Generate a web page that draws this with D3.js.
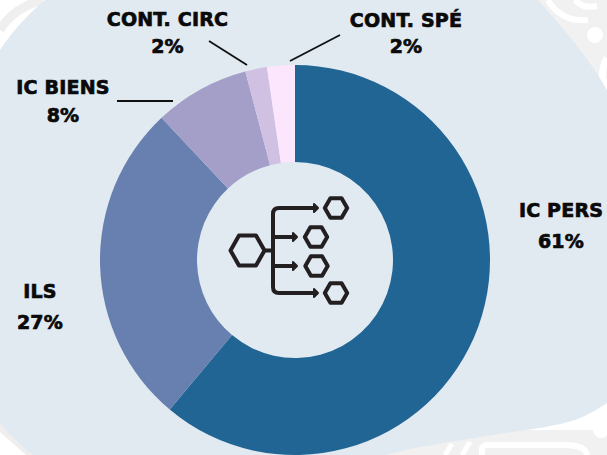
<!DOCTYPE html>
<html>
<head>
<meta charset="utf-8">
<script src="https://cdn.jsdelivr.net/npm/d3@7"></script>
<style>
  html, body { margin: 0; padding: 0; background: #fff; overflow: hidden; }
</style>
</head>
<body>
<div id="chart"></div>
<script>
// 数据
const categories = ["IC PERS", "ILS", "IC BIENS", "CONT. CIRC", "CONT. SPÉ"];
const percentLabels = ["61%", "27%", "8%", "2%", "2%"];
const values = [61.1, 26.9, 7.9, 1.8, 2.3];  // 扇区大小
const sliceColors = ["#206594", "#6780AF", "#A39FC8", "#D0C0E2", "#FBE6FD"];

const width = 607;
const height = 455;
const cx = 295;
const cy = 260;

const svg = d3.select("#chart")
    .append("svg")
    .attr("width", width)
    .attr("height", height)
    .style("display", "block");

// 角落的浅灰花纹
const deco = svg.append("g");
deco.append("path").attr("d", "M520,0H607V120H520Z").attr("fill", "#f1f1f1");
deco.append("path").attr("d", "M380,455L400,430H607V455Z").attr("fill", "#f1f1f1");
deco.append("path").attr("d", "M0,30C8,16 24,4 43,0").attr("fill", "none").attr("stroke", "#efefef").attr("stroke-width", 9);
deco.append("path").attr("d", "M0,423L0,432L26,455L33,455Z").attr("fill", "#eeeeee");

const decoLines = deco.append("g").attr("fill", "none").attr("stroke", "#fff");
decoLines.append("path").attr("d", "M548,0C556,14 570,22 588,20").attr("stroke-width", 6);
decoLines.append("path").attr("d", "M575,0C580,6 588,8 597,6").attr("stroke-width", 6);
decoLines.append("path").attr("d", "M607,58C601,68 601,80 607,90").attr("stroke-width", 7);
decoLines.append("path").attr("d", "M445,455L452,444M462,455L470,442").attr("stroke-width", 5);
decoLines.append("path").attr("d", "M482,455V450Q482,445 488,445H565Q585,445 587,455").attr("stroke-width", 6);
deco.append("circle").attr("cx", 595).attr("cy", 35).attr("r", 8).attr("fill", "#fff");
deco.append("circle").attr("cx", 601).attr("cy", 430).attr("r", 8).attr("fill", "#fff");

// 浅蓝色背景块
svg.append("path")
    .attr("d", "M45,0 L538,0 C565,30 590,60 607,90 L607,403 C598,409 590,414 575,420 C550,428 515,431 480,437 C450,442 415,447 385,455 L33,455 C20,445 8,433 0,423 L0,50 C12,32 28,14 45,0 Z")
    .attr("fill", "#E1E9F1");

// 环形图
const pie = d3.pie().sort(null).value(function (d) { return d; });
const arc = d3.arc().innerRadius(98).outerRadius(195);

svg.append("g")
    .attr("transform", "translate(" + cx + "," + cy + ")")
    .selectAll("path")
    .data(pie(values))
    .enter()
    .append("path")
    .attr("d", arc)
    .attr("fill", function (d, i) { return sliceColors[i]; });

// 标签
const labelPos = [
    { x: 561, y: 217, dy: 31 },
    { x: 40, y: 298, dy: 31 },
    { x: 63, y: 94, dy: 28 },
    { x: 167.5, y: 26, dy: 27 },
    { x: 406, y: 27, dy: 26 }
];
const labels = svg.append("g")
    .attr("font-family", "'DejaVu Sans', sans-serif")
    .attr("font-weight", "bold")
    .attr("font-size", 19)
    .attr("letter-spacing", 0.2)
    .attr("fill", "#0a0a0a")
    .attr("stroke", "#0a0a0a")
    .attr("stroke-width", 0.7)
    .attr("text-anchor", "middle");

categories.forEach(function (name, i) {
    const t = labels.append("text").attr("x", labelPos[i].x).attr("y", labelPos[i].y);
    t.append("tspan").text(name);
    t.append("tspan").attr("x", labelPos[i].x).attr("dy", labelPos[i].dy).text(percentLabels[i]);
});

// 引线
const leaders = [
    [117, 101, 173, 101],
    [209, 41, 247, 65],
    [290, 61, 340, 35]
];
svg.selectAll("line.leader")
    .data(leaders)
    .enter()
    .append("line")
    .attr("class", "leader")
    .attr("x1", function (d) { return d[0]; })
    .attr("y1", function (d) { return d[1]; })
    .attr("x2", function (d) { return d[2]; })
    .attr("y2", function (d) { return d[3]; })
    .attr("stroke", "#111")
    .attr("stroke-width", 1.8);

// 中间的图标
const icon = svg.append("g")
    .attr("fill", "none")
    .attr("stroke", "#231f20")
    .attr("stroke-width", 4)
    .attr("stroke-linejoin", "round")
    .attr("stroke-linecap", "round");

function hexagon(x, y, r) {
    const h = r * 0.88;
    return "M" + (x - r) + "," + y +
        "L" + (x - r / 2) + "," + (y - h) +
        "L" + (x + r / 2) + "," + (y - h) +
        "L" + (x + r) + "," + y +
        "L" + (x + r / 2) + "," + (y + h) +
        "L" + (x - r / 2) + "," + (y + h) + "Z";
}

icon.append("path").attr("d", hexagon(247.5, 250.5, 17));
icon.append("path").attr("d", hexagon(336, 208, 11.2));
icon.append("path").attr("d", hexagon(316, 237, 11.2));
icon.append("path").attr("d", hexagon(316.5, 266, 11.2));
icon.append("path").attr("d", hexagon(336, 293, 11.2));
icon.append("path").attr("d", "M266,250.5H273");
icon.append("path").attr("d", "M316,208H279Q273,208 273,214V287Q273,293 279,293H316");
icon.append("path").attr("d", "M273,237H295");
icon.append("path").attr("d", "M273,266H295");
[[318, 208], [297, 237], [297, 266], [318, 293]].forEach(function (p) {
    icon.append("path")
        .attr("d", "M" + (p[0] - 4) + "," + (p[1] - 4) + "L" + p[0] + "," + p[1] + "L" + (p[0] - 4) + "," + (p[1] + 4) + "Z")
        .attr("fill", "#231f20")
        .attr("stroke-width", 2);
});
</script>
</body>
</html>
